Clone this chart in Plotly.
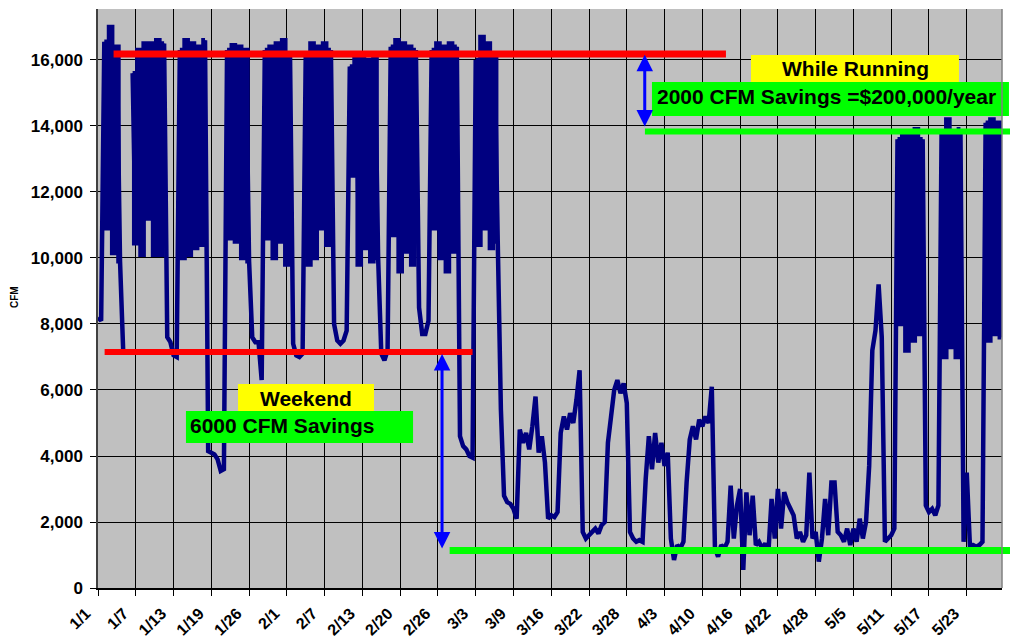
import plotly.graph_objects as go

# ---------------- data ----------------
dates = ["1/1", "1/7", "1/13", "1/19", "1/26", "2/1", "2/7", "2/13", "2/20", "2/26",
         "3/3", "3/9", "3/16", "3/22", "3/28", "4/3", "4/10", "4/16", "4/22", "4/28",
         "5/5", "5/11", "5/17", "5/23"]
samples_per_label = 12

cfm = [
    8200, 8100, 16550, 10900, 17000, 10150, 16400, 9900, 7200, None, None, 15600,
    10450, 16300, 10100, 16500, 11200, 16500, 10100, 16600, 10100, 16500, 7600, 7450,
    7050, 7000, 16300, 10000, 16600, 10100, 16500, 10300, 16400, 10400, 16600, 4150,
    4100, 4050, 3900, 3550, 3600, 16300, 10600, 16450, 10500, 16400, 10000, 16300,
    9900, 7600, 7450, 7450, 6300, 16300, 10600, 16400, 10000, 16500, 10500, 16600,
    9800, 16200, 7400, 7050, 7000, 7100, 16200, 9800, 16500, 10000, 16400, 10900,
    16500, 10400, 16300, 8000, 7500, 7400, 7500, 7800, 15800, 12500, 16100, 9800,
    16100, 10300, 16000, 9900, 16200, 10000, 7100, 6900, 7200, 16400, 10700, 16600,
    9600, 16500, 10200, 16400, 9800, 16300, 8500, 7700, 7700, 8100, 16300, 10900,
    16500, 10000, 16400, 9600, 16500, 10200, 16400, 4600, 4300, 4200, 4000, 3950,
    16000, 10400, 16700, 10900, 16500, 10300, 16200, 10500, 5400, 2800, 2600, 2550,
    2400, 2100, 4800, 4400, 4700, 4200, 4900, 5800, 4100, 4600, 3800, 2100,
    2200, 2150, 2300, 4700, 5200, 4800, 5300, 5000, 5700, 6600, 1700, 1500,
    1600, 1700, 1800, 1650, 1900, 2000, 4400, 5200, 6000, 6300, 5900, 6200,
    5600, 1700, 1500, 1400, 1450, 1400, 3300, 4600, 3600, 4700, 3800, 4400,
    3700, 4100, 1500, 850, 1300, 1200, 1400, 3200, 4500, 4900, 4500, 5100,
    4900, 5200, 5000, 6100, 1200, 950, 1300, 1200, 1400, 3100, 1500, 2500,
    3000, 550, 2900, 1600, 2800, 1300, 1400, 1200, 1350, 1100, 2700, 1500,
    3000, 1800, 2900, 2600, 2400, 2200, 1500, 1700, 1400, 1600, 3500, 1500,
    1700, 800, 1500, 2700, 1600, 3200, 3200, 1700, 1600, 1400, 1800, 1300,
    1800, 1400, 2100, 1500, 2000, 3700, 7200, 7800, 9200, 7600, 1400, 1500,
    1600, 1800, 13600, 8000, 13800, 7200, 13700, 7500, 13900, 7700, 13600, 2500,
    2300, 2400, 2200, 2500, 13800, 7000, 14200, 7300, 13800, 7000, 13900, 1400,
    3500, 1300, 1300, 1250, 1300, 1400, 14100, 7500, 14200, 7700, 14100, 7600,
]
# sample ranges (inclusive) of the weekday "running" periods, where the
# readings oscillate so fast that the trace renders as a solid band
running_periods = [(2, 7), (11, 21), (26, 34), (41, 48), (53, 61), (66, 74), (80, 89),
                   (93, 101), (106, 114), (120, 127), (254, 262), (268, 274), (282, 287)]

sample_index = list(range(len(cfm)))
tick_positions = [i * samples_per_label for i in range(len(dates))]
y_ticks = list(range(0, 16001, 2000))

# reference levels (CFM)
running_before = 16180
running_after = 13830
weekend_before = 7150
weekend_after = 1140

FONT = "Arial, 'Liberation Sans', sans-serif"
NAVY = "#000080"

in_running = [False] * len(cfm)
for a, b in running_periods:
    for i in range(a, b + 1):
        in_running[i] = True
cfm_running = [v if flag else None for v, flag in zip(cfm, in_running)]

fig = go.Figure()
fig.add_trace(go.Scatter(
    x=sample_index, y=cfm, mode="lines",
    line=dict(color=NAVY, width=4.5, simplify=False),
    connectgaps=False, hoverinfo="skip", showlegend=False,
))
fig.add_trace(go.Scatter(
    x=sample_index, y=cfm_running, mode="lines",
    line=dict(color=NAVY, width=4.5, shape="hvh", simplify=False),
    connectgaps=False, hoverinfo="skip", showlegend=False,
))

shapes = [
    dict(type="line", xref="x", yref="y", x0=4.95, x1=199.5,
         y0=running_before, y1=running_before, line=dict(color="#FF0000", width=7)),
    dict(type="line", xref="x", yref="y", x0=2.1, x1=119.0,
         y0=weekend_before, y1=weekend_before, line=dict(color="#FF0000", width=6)),
    dict(type="line", xref="paper", yref="y", x0=0.605, x1=1.01,
         y0=running_after, y1=running_after, line=dict(color="#00FF00", width=6)),
    dict(type="line", xref="paper", yref="y", x0=0.389, x1=1.01,
         y0=weekend_after, y1=weekend_after, line=dict(color="#00FF00", width=7)),
    dict(type="rect", xref="paper", yref="paper", x0=0.7223, x1=0.9524, y0=0.8739, y1=0.9206,
         fillcolor="#FFFF00", line=dict(width=0)),
    dict(type="rect", xref="paper", yref="paper", x0=0.6128, x1=1.0077, y0=0.8152, y1=0.8739,
         fillcolor="#00FF00", line=dict(width=0)),
    dict(type="rect", xref="paper", yref="paper", x0=0.1549, x1=0.3053, y0=0.3040, y1=0.3523,
         fillcolor="#FFFF00", line=dict(width=0)),
    dict(type="rect", xref="paper", yref="paper", x0=0.0973, x1=0.3485, y0=0.2504, y1=0.3057,
         fillcolor="#00FF00", line=dict(width=0)),
    dict(type="line", xref="paper", yref="paper", x0=1, x1=1, y0=0, y1=1,
         line=dict(color="#808080", width=1.5)),
]

ann_font = dict(family=FONT, size=21, color="black")
annotations = [
    dict(text="<b>While Running</b>", xref="paper", yref="paper", x=0.8374, y=0.8964,
         xanchor="center", yanchor="middle", showarrow=False, font=ann_font),
    dict(text="<b>2000 CFM Savings =$200,000/year</b>", xref="paper", yref="paper",
         x=0.6162, y=0.8489, xanchor="left", yanchor="middle", showarrow=False, font=ann_font),
    dict(text="<b>Weekend</b>", xref="paper", yref="paper", x=0.2301, y=0.3273,
         xanchor="center", yanchor="middle", showarrow=False, font=ann_font),
    dict(text="<b>6000 CFM Savings</b>", xref="paper", yref="paper", x=0.1000, y=0.2807,
         xanchor="left", yanchor="middle", showarrow=False, font=ann_font),
    dict(text="<b>CFM</b>", xref="paper", yref="paper", x=-0.0918, y=0.5026,
         textangle=-90, xanchor="center", yanchor="middle", showarrow=False,
         font=dict(family=FONT, size=10, color="black")),
    dict(text="", x=173.7, y=running_before - 20, ax=173.7, ay=running_after + 110,
         xref="x", yref="y", axref="x", ayref="y", showarrow=True,
         arrowside="end+start", arrowhead=2, arrowsize=1.1, arrowwidth=3,
         arrowcolor="#0000FF", standoff=0, startstandoff=0),
    dict(text="", x=109.3, y=weekend_before - 60, ax=109.3, ay=weekend_after + 10,
         xref="x", yref="y", axref="x", ayref="y", showarrow=True,
         arrowside="end+start", arrowhead=2, arrowsize=1.1, arrowwidth=3,
         arrowcolor="#0000FF", standoff=0, startstandoff=0),
]

fig.update_layout(
    width=1010, height=639, autosize=False,
    margin=dict(l=98, r=8, t=9, b=51, pad=0),
    paper_bgcolor="white", plot_bgcolor="#C0C0C0",
    font=dict(family=FONT, color="black"),
    shapes=shapes, annotations=annotations,
    xaxis=dict(
        range=[0, 287.2], tickmode="array", tickvals=tick_positions, ticktext=dates,
        tickangle=-45, ticks="outside", ticklen=6, tickcolor="black", tickwidth=1,
        showgrid=True, gridcolor="black", gridwidth=1, automargin=False,
        showline=True, linecolor="black", linewidth=1.5, zeroline=False,
        tickfont=dict(family=FONT, size=16, color="black", weight="bold"),
        ticklabelshift=-12, ticklabelstandoff=2,
    ),
    yaxis=dict(
        range=[0, 17545], tickmode="array", tickvals=y_ticks, tickformat=",d",
        ticks="outside", ticklen=6, tickcolor="black", tickwidth=1,
        showgrid=True, gridcolor="black", gridwidth=1, automargin=False,
        showline=True, linecolor="#404040", linewidth=1.5, zeroline=False,
        tickfont=dict(family=FONT, size=17, color="black", weight="bold"),
        ticklabelstandoff=4,
    ),
)

fig.write_html(
    "out.html",
    config={"displayModeBar": False},
    post_script="document.body.style.margin='0';document.body.style.overflow='hidden';",
)
